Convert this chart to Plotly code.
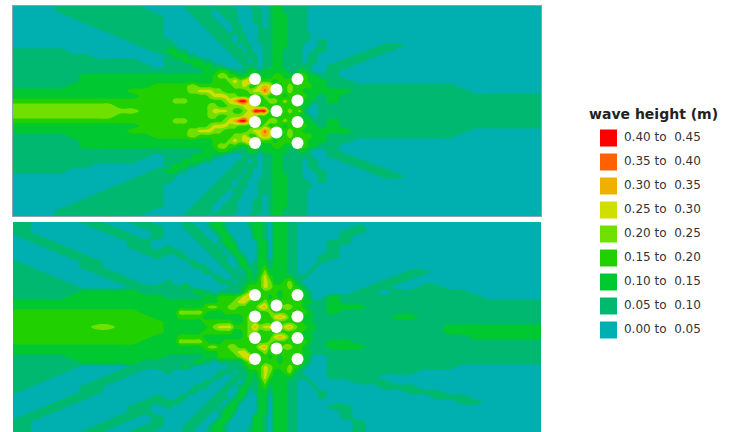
import plotly.graph_objects as go

# Grid positions of the wave-height samples (distance along and across the basin)
x_left = [13, 25, 37, 49, 61, 73, 85, 97, 109, 121, 133, 145, 157]
x_mid = [170, 175, 180, 185, 190, 195, 200, 205, 210, 215, 220, 225, 230, 235, 240, 245,
         250, 255, 260, 265, 270, 275, 280, 285, 290, 295, 300, 305, 310, 315, 320]
x_right = [333, 346, 359, 372, 385, 398, 411, 424, 437, 450, 463, 476, 489, 502, 515, 528, 541]
x_grid = x_left + x_mid + x_right
y_upper = [105, 100, 95, 90, 85, 80, 75, 70, 65, 60, 55, 50, 45, 40, 35, 30, 25, 20, 15, 10, 5, 0]
y_grid = y_upper + [-v for v in y_upper[-2::-1]]

# Band number per sample (0 = 0.00-0.05 ... 8 = 0.40-0.45), upper half of each basin, top to centre
top_rows = [
    "0000111111100|00011 11101 11100 01100 12211 11100 0|00000000000000000",
    "0000111111110|00001 11110 11110 00110 12211 11100 0|00000000000000000",
    "0000011111111|00000 11110 01110 00110 12221 11100 0|00000000000000000",
    "0000001111111|00000 01111 00110 00110 12221 11100 0|00000000000000000",
    "0000000111111|00000 00111 10011 00010 12221 11100 0|00000000000000000",
    "0000000011111|00000 00011 11011 00011 12221 11100 0|00000000000000000",
    "0000000001111|00000 00001 11101 10011 12221 11110 0|00000000000000000",
    "0000000000111|10000 00000 11101 10011 12221 11100 1|00000000000000000",
    "0000000000011|11000 00000 01110 11001 12221 11000 1|00001100000000000",
    "1111100000001|22110 00000 00111 01001 12211 11001 1|00011000000000000",
    "1111111000000|12221 10000 00011 11101 12211 11011 0|00110000000000000",
    "1111111111100|11122 22110 00001 10101 12211 11011 0|01100000000000000",
    "1111111111110|11111 22221 10000 11101 12211 11110 0|11000000000000000",
    "1111111111111|11111 11222 33211 12212 22221 12210 0|10000000000000000",
    "1111112222222|22222 22223 44332 23322 23322 23322 1|10000000000000000",
    "1111112222222|22222 22223 33454 56333 32333 33322 2|11000000000000000",
    "1111122222223|33334 43333 33344 53356 53234 33332 2|11111111110000000",
    "2222222222333|33334 45554 43333 34557 53234 33222 2|22111111111000000",
    "2222222222233|33333 33345 55443 33334 33323 33322 1|21111111111111111",
    "3333333333333|34443 33333 34568 85333 44343 33221 1|21111111111111111",
    "4444444443333|33333 33344 33444 55433 33333 32210 1|11111111111111111",
    "4444444444433|33333 33345 55433 45888 33334 34100 1|11111111111111111",
]
bottom_rows = [
    "1100001100110|00011 00012 21000 01221 02221 10000 0|00000000000000000",
    "1100000110011|00011 10012 21000 01221 02221 10000 0|00100000000000000",
    "1100000011001|00001 11001 22000 00221 02221 10000 0|01100000000000000",
    "0110000001101|00000 11100 12200 00221 02221 10000 0|01000000000000000",
    "0011000000110|00000 01110 12210 00022 02221 10000 0|11000000000000000",
    "0001100000110|10000 00111 01220 00022 02221 10000 0|10000000000000000",
    "0000110000011|11100 00011 10121 00022 02221 10000 0|10000000000000000",
    "0000011000001|00110 00001 11012 10022 02221 10000 1|10000000000000000",
    "1000001100000|00001 10000 11002 20122 12221 10000 1|00000000000000000",
    "1100001100000|00000 11100 01101 21123 12221 10001 0|00000000000000000",
    "1110000110000|00000 00110 00110 12124 22221 10010 0|00000011000000000",
    "1111000011000|00000 00001 10011 12135 32222 11100 0|00000110000000000",
    "1111100001100|10000 00000 11101 12235 42234 21000 0|00001100000000000",
    "1111110000111|11121 00000 00111 23335 43334 32100 0|00011001100000000",
    "1111112222211|11111 22110 11111 34233 33233 33210 0|00110111111000000",
    "1111122222222|11111 11222 33334 56333 23233 33210 0|21111111111100000",
    "2222222222222|22222 22222 33345 53334 33333 33221 1|21111111111111111",
    "2222222222222|22222 22344 33443 33356 33344 33211 1|22211111111111111",
    "3333333333322|22444 44322 23333 33333 43333 33321 1|21111111111111111",
    "3333333333332|22333 33222 22222 34333 35653 33221 1|11111221111111111",
    "3333333333333|22222 22333 33322 34433 33333 33221 1|11111111111111111",
    "3333333443333|22222 22234 55533 34645 53356 43322 1|11111111122222222",
]
# The right-hand part of the lower basin is not a mirror image, so it is kept separately
bottom_right_lower = [
    "11111111122222222", "11111111111222222", "22111111111111111", "22211111111111111",
    "11111111111111111", "11111111111111111", "11111111111111111", "11111111110000000",
    "11111110000000000", "11110000000000000", "00111000000000000", "00001110000000000",
    "00000011100000000", "00000000111000000", "00000000001100000", "11000000000000000",
    "01000000000000000", "01000000000000000", "00100000000000000", "00100000000000000",
    "00100000000000000",
]

disc_x = [255, 255, 255, 255, 276.5, 276.5, 276.5, 297.5, 297.5, 297.5, 297.5]
disc_y = [32, 10.5, -11, -32, 21.5, 0, -21.5, 32, 10.5, -11, -32]

band_labels = ["0.40 to\u00a0 0.45", "0.35 to\u00a0 0.40", "0.30 to\u00a0 0.35",
               "0.25 to\u00a0 0.30", "0.20 to\u00a0 0.25", "0.15 to\u00a0 0.20",
               "0.10 to\u00a0 0.15", "0.05 to\u00a0 0.10", "0.00 to\u00a0 0.05"]
band_colors = ["#ff0000", "#ff6000", "#f0b000", "#cfe000", "#70e000",
               "#20d000", "#00c830", "#00b870", "#00b0b0"]
band_step = 0.05


def parse(row):
    return row.replace(" ", "").split("|")


def values(parts):
    return [int(c) * band_step + band_step / 2 for c in "".join(parts)]


top_parts = [parse(r) for r in top_rows]
z_top = [values(p) for p in top_parts + top_parts[-2::-1]]
bot_parts = [parse(r) for r in bottom_rows]
z_bottom = [values(p) for p in bot_parts]
for p, right in zip(bot_parts[-2::-1], bottom_right_lower):
    z_bottom.append(values([p[0], p[1], right]))

colors_low_first = band_colors[::-1]
n = len(colors_low_first)
scale = []
for i, c in enumerate(colors_low_first):
    scale += [[i / n, c], [(i + 1) / n, c]]

W, H = 736, 432
fig = go.Figure()


def field(z, xa, ya):
    fig.add_trace(go.Contour(
        x=x_grid, y=y_grid, z=z, xaxis=xa, yaxis=ya, colorscale=scale, zmin=0, zmax=0.45,
        autocontour=False, contours=dict(start=0.05, end=0.40, size=0.05, coloring="fill"),
        line=dict(width=0, smoothing=1), showscale=False, hoverinfo="skip"))
    fig.add_trace(go.Scatter(
        x=disc_x, y=disc_y, xaxis=xa, yaxis=ya, mode="markers", showlegend=False,
        marker=dict(color="white", size=12, line=dict(width=0)), hoverinfo="skip"))


field(z_top, "x", "y")
field(z_bottom, "x2", "y2")

fig.add_trace(go.Scatter(
    x=[608.5] * len(band_labels), y=list(range(len(band_labels))), xaxis="x3", yaxis="y3",
    mode="markers+text", showlegend=False, hoverinfo="skip",
    marker=dict(symbol="square", size=17, color=band_colors, line=dict(width=0)),
    text=["\u00a0" + t for t in band_labels], textposition="middle right",
    textfont=dict(family="DejaVu Sans", size=12, color="#333333")))

hidden = dict(showgrid=False, zeroline=False, showticklabels=False, ticks="")
fig.update_layout(
    width=W, height=H, autosize=False, margin=dict(l=0, r=0, t=0, b=0),
    paper_bgcolor="white", plot_bgcolor="white", showlegend=False,
    xaxis=dict(domain=[13 / W, 541 / W], range=[13, 541], showline=True, mirror=True,
               linecolor="#8fa3ad", linewidth=1, **hidden),
    yaxis=dict(domain=[1 - 216 / H, 1 - 6 / H], range=[-105, 105], showline=True, mirror=True,
               linecolor="#8fa3ad", linewidth=1, **hidden),
    xaxis2=dict(domain=[13 / W, 541 / W], range=[13, 541], anchor="y2", **hidden),
    yaxis2=dict(domain=[0, 1 - 222 / H], range=[-105, 105], anchor="x2", **hidden),
    xaxis3=dict(domain=[552 / W, 1], range=[552, 736], anchor="y3", **hidden),
    yaxis3=dict(domain=[0, 1], range=[12.25, -5.75], anchor="x3", **hidden),
    annotations=[dict(text="<b>wave height (m)</b>", xref="paper", yref="paper",
                      x=653 / W, y=1 - 114 / H, xanchor="center", yanchor="middle",
                      showarrow=False, font=dict(family="DejaVu Sans", size=14, color="#222222"))],
)
fig.write_html("out.html", config=dict(displayModeBar=False, staticPlot=True),
               post_script="document.body.style.margin='0';document.documentElement.style.overflow='hidden';")
